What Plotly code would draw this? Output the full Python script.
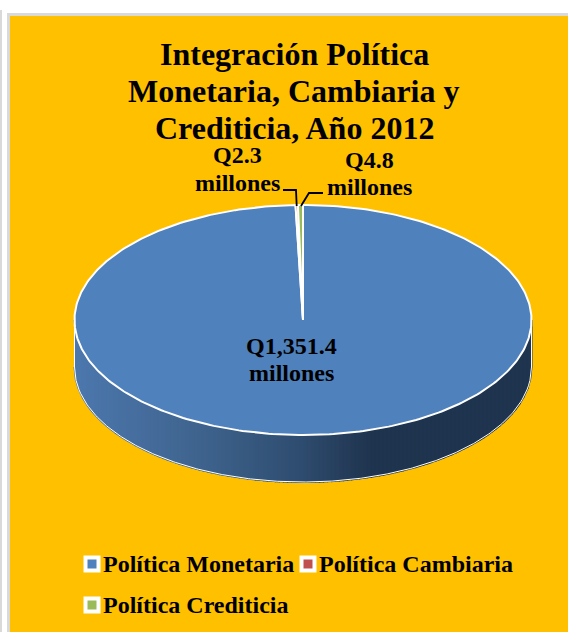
import numpy as np
import plotly.graph_objects as go

categories = ["Política Monetaria", "Política Cambiaria", "Política Crediticia"]
values = [1351.4, 2.3, 4.8]
colors = ["#4f81bd", "#c0504d", "#9bbb59"]
title_lines = ["Integración Política", "Monetaria, Cambiaria y", "Crediticia, Año 2012"]

W, H = 568, 632
CX, CY, RX, RY, DEPTH = 303, 320, 228.5, 115, 47
SERIF = "Liberation Serif"
fig = go.Figure()


def top_xy(t):
    return CX + RX * np.sin(t), CY - RY * np.cos(t)


# side wall: vertical strips following the front of the disc
stops_x = [75, 200, 300, 370, 532]
stops_c = [(77, 120, 174), (63, 100, 142), (47, 77, 112), (32, 53, 79), (31, 52, 78)]
edges = np.linspace(CX - RX, CX + RX, 115)
for a, b in zip(edges[:-1], edges[1:]):
    xs = np.linspace(a, b, 4)
    ys = CY + RY * np.sqrt(np.clip(1 - ((xs - CX) / RX) ** 2, 0, 1))
    mid = (a + b) / 2
    c = [int(np.interp(mid, stops_x, [s[i] for s in stops_c])) for i in range(3)]
    col = f"rgb({c[0]},{c[1]},{c[2]})"
    fig.add_trace(go.Scatter(
        x=np.r_[xs, xs[::-1]], y=np.r_[ys, (ys + DEPTH)[::-1]], mode="lines",
        fill="toself", fillcolor=col, line=dict(color=col, width=2),
        hoverinfo="skip", showlegend=False))

# outline of the wall
ox = np.linspace(CX - RX, CX + RX, 300)
oy = CY + RY * np.sqrt(np.clip(1 - ((ox - CX) / RX) ** 2, 0, 1)) + DEPTH
fig.add_trace(go.Scatter(
    x=np.r_[CX - RX, ox, CX + RX], y=np.r_[CY, oy, CY],
    mode="lines", line=dict(color="#ffffff", width=1), hoverinfo="skip", showlegend=False))

# slices, clockwise from twelve o'clock
fractions = np.array(values) / sum(values)
starts = np.r_[0, np.cumsum(fractions)[:-1]] * 2 * np.pi
ends = np.cumsum(fractions) * 2 * np.pi
for name, col, a, b in zip(categories, colors, starts, ends):
    t = np.linspace(a, b, max(3, int((b - a) * 60)))
    x, y = top_xy(t)
    fig.add_trace(go.Scatter(
        x=np.r_[CX, x, CX], y=np.r_[CY, y, CY], mode="lines", fill="toself", fillcolor=col,
        line=dict(color="#ffffff", width=2), name=name, showlegend=False, hoverinfo="name"))

# leader lines
mid_x, mid_y = top_xy((starts + ends) / 2)
fig.add_trace(go.Scatter(x=[283, 296, mid_x[1]], y=[190, 190, mid_y[1] + 1], mode="lines",
                         line=dict(color="#000000", width=1.8), hoverinfo="skip", showlegend=False))
fig.add_trace(go.Scatter(x=[323, 309, mid_x[2] + 0.5], y=[193, 193, mid_y[2] + 1], mode="lines",
                         line=dict(color="#000000", width=1.8), hoverinfo="skip", showlegend=False))


def label(x, y, text, size, anchor="center"):
    fig.add_annotation(x=x, y=y, text=f"<b>{text}</b>", showarrow=False,
                       font=dict(family=SERIF, size=size, color="#000000"),
                       xanchor=anchor, yanchor="middle")


# title
for line, ly in zip(title_lines, [54, 91, 128]):
    label(294, ly, line, 32)

# data labels
label_pos = [(291, 346, 373), (237, 155, 183), (369, 160, 187)]
for v, (lx, y1, y2) in zip(values, label_pos):
    label(lx, y1, f"Q{v:,.1f}", 24)
    label(lx, y2, "millones", 24)

# legend
legend_pos = [(92, 564), (308, 564), (92, 605)]
for name, col, (lx, ly) in zip(categories, colors, legend_pos):
    fig.add_trace(go.Scatter(
        x=[lx], y=[ly], mode="markers", name=name, showlegend=False, hoverinfo="name",
        marker=dict(symbol="square", size=13, color=col, line=dict(color="#ffffff", width=4))))
    label(lx + 8.5, ly, name, 24, "left")

fig.update_layout(
    width=W, height=H, autosize=False,
    margin=dict(l=0, r=0, t=0, b=0),
    paper_bgcolor="#ffffff", plot_bgcolor="#ffffff",
    xaxis=dict(range=[0, W], visible=False, fixedrange=True),
    yaxis=dict(range=[H, 0], visible=False, fixedrange=True),
    shapes=[
        dict(type="rect", layer="below", x0=0, x1=2, y0=10, y1=H, fillcolor="#d9d9d9", line_width=0),
        dict(type="rect", layer="below", x0=7, x1=W, y0=13, y1=H, fillcolor="#d9d9d9", line_width=0),
        dict(type="rect", layer="below", x0=10, x1=W, y0=16, y1=H, fillcolor="#ffc000", line_width=0),
    ],
)
fig.write_html("out.html", config={"displayModeBar": False},
               post_script="document.body.style.margin='0';document.body.style.overflow='hidden';")
